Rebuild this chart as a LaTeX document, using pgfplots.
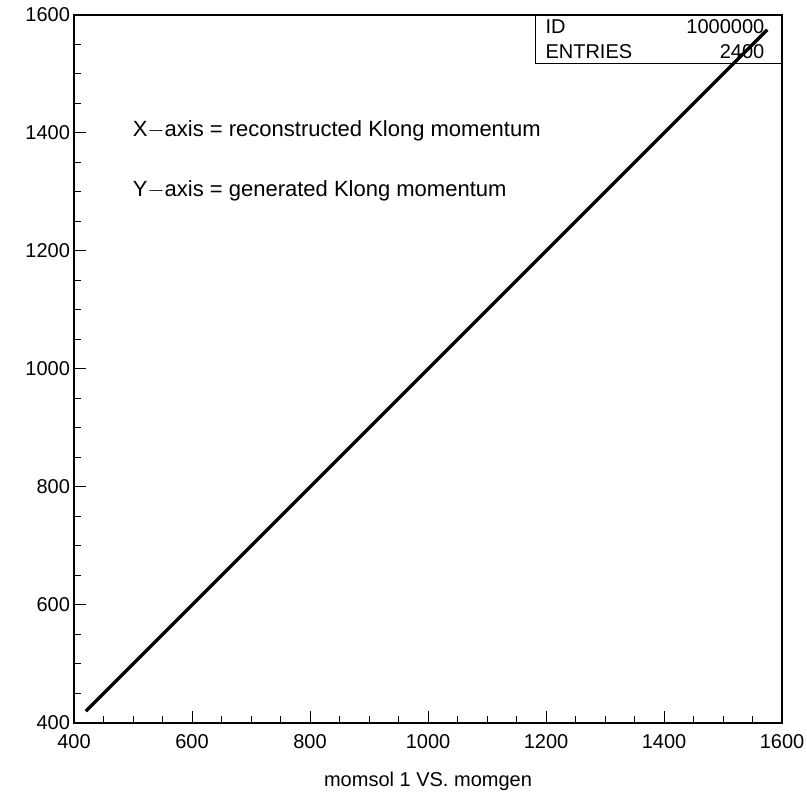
\documentclass[border=0pt]{standalone}
\usepackage{pgfplots}
\pgfplotsset{compat=1.18}
\usepackage{fontspec}
\setmainfont{Liberation Sans}

\begin{document}
\begin{tikzpicture}
\useasboundingbox (-37pt,-36pt) rectangle (366.5pt,361.5pt);
\begin{axis}[
    scale only axis,
    width=354pt, height=354pt,
    xmin=400, xmax=1600,
    ymin=400, ymax=1600,
    xtick={400,600,...,1600},
    ytick={400,600,...,1600},
    minor tick num=3,
    tick pos=left,
    tick align=inside,
    major tick length=6pt,
    minor tick length=3.3pt,
    axis line style={line width=0.6pt},
    every tick/.style={black, line width=0.5pt},
    tick label style={font=\fontsize{10}{12}\selectfont},
    /pgf/number format/assume math mode=true,
    /pgf/number format/1000 sep={},
    xticklabel style={yshift=-2pt},
    yticklabel style={xshift=1.5pt},
    xlabel={momsol 1 VS. momgen},
    xlabel style={font=\fontsize{10}{12}\selectfont, yshift=-5pt},
    clip=false,
]
% stats box
\draw[line width=0.5pt] (rel axis cs:0.6525,1) rectangle (rel axis cs:1,0.931);
\node[anchor=west, font=\fontsize{10}{12}\selectfont] at (rel axis cs:0.656,0.983) {ID};
\node[anchor=east, font=\fontsize{10}{12}\selectfont] at (rel axis cs:0.985,0.983) {1000000};
\node[anchor=west, font=\fontsize{10}{12}\selectfont] at (rel axis cs:0.656,0.948) {ENTRIES};
\node[anchor=east, font=\fontsize{10}{12}\selectfont] at (rel axis cs:0.985,0.948) {2400};

% annotations
\node[anchor=west, font=\fontsize{11}{13}\selectfont] at (axis cs:488,1403) {X$-$axis = reconstructed Klong momentum};
\node[anchor=west, font=\fontsize{11}{13}\selectfont] at (axis cs:488,1302) {Y$-$axis = generated Klong momentum};

% momsol 1 vs momgen
\addplot[black, line width=1.6pt, sharp plot] coordinates {
    (420,420) (450,450) (500,500) (550,550) (600,600) (650,650)
    (700,700) (750,750) (800,800) (850,850) (900,900) (950,950)
    (1000,1000) (1050,1050) (1100,1100) (1150,1150) (1200,1200)
    (1250,1250) (1300,1300) (1350,1350) (1400,1400) (1450,1450)
    (1500,1500) (1550,1550) (1575,1575)
};
\end{axis}
\end{tikzpicture}
\end{document}
